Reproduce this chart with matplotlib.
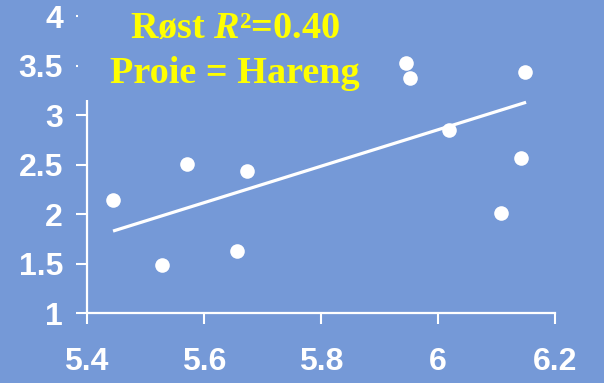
import matplotlib.pyplot as plt
from matplotlib.patches import Rectangle

# Herring as prey, Røst site
x_vals = [5.445, 5.571, 5.673, 5.528, 5.657, 5.945, 5.952, 6.148, 6.019, 6.141, 6.108]
y_vals = [2.14, 2.51, 2.44, 1.49, 1.63, 3.53, 3.38, 3.44, 2.85, 2.57, 2.01]

# regression line end points
fit_x = [5.445, 6.150]
fit_y = [1.83, 3.13]

x_ticks = [5.4, 5.6, 5.8, 6.0, 6.2]
x_labels = ['5.4', '5.6', '5.8', '6', '6.2']
y_ticks = [1, 1.5, 2, 2.5, 3, 3.5, 4]
y_labels = ['1', '1.5', '2', '2.5', '3', '3.5', '4']

bg = '#7599d7'
yellow = '#ffff00'

plt.rcParams['mathtext.fontset'] = 'custom'
plt.rcParams['mathtext.rm'] = 'Liberation Serif:bold'
plt.rcParams['mathtext.it'] = 'Liberation Serif:italic:bold'

fig = plt.figure(figsize=(6.04, 3.83), dpi=100, facecolor=bg)
ax = fig.add_axes([0.1435, 0.182, 0.776, 0.776])
ax.set_facecolor(bg)

ax.plot(fit_x, fit_y, color='white', linewidth=2.3, solid_capstyle='butt')
ax.plot(x_vals, y_vals, 'o', color='white', markersize=10.5, markeredgewidth=0)

ax.set_xlim(5.4, 6.2)
ax.set_ylim(1, 4)
ax.set_xticks(x_ticks)
ax.set_xticklabels(x_labels)
ax.set_yticks(y_ticks)
ax.set_yticklabels(y_labels)

for side in ['top', 'right']:
    ax.spines[side].set_visible(False)
for side in ['left', 'bottom']:
    ax.spines[side].set_color('white')
    ax.spines[side].set_linewidth(1.6)

ax.tick_params(axis='both', colors='white', length=8, width=1.5, direction='out',
               labelsize=23)
ax.tick_params(axis='x', pad=16)
ax.tick_params(axis='y', pad=9)
for lab in ax.get_xticklabels() + ax.get_yticklabels():
    lab.set_fontfamily('Liberation Sans')
    lab.set_fontweight('bold')

# title block sits over the top of the y axis
fig.patches.append(Rectangle((0.129, 0.739), 0.517, 0.261, transform=fig.transFigure,
                             facecolor=bg, edgecolor='none', zorder=2))
fig.text(0.389, 0.901, r'Røst $R$²=0.40', ha='center', va='baseline', color=yellow,
         fontsize=27.5, family='Liberation Serif', fontweight='bold', zorder=5)
fig.text(0.389, 0.783, 'Proie = Hareng', ha='center', va='baseline', color=yellow,
         fontsize=27.5, family='Liberation Serif', fontweight='bold', zorder=5)

fig.savefig('out.png', dpi=100, facecolor=bg)
